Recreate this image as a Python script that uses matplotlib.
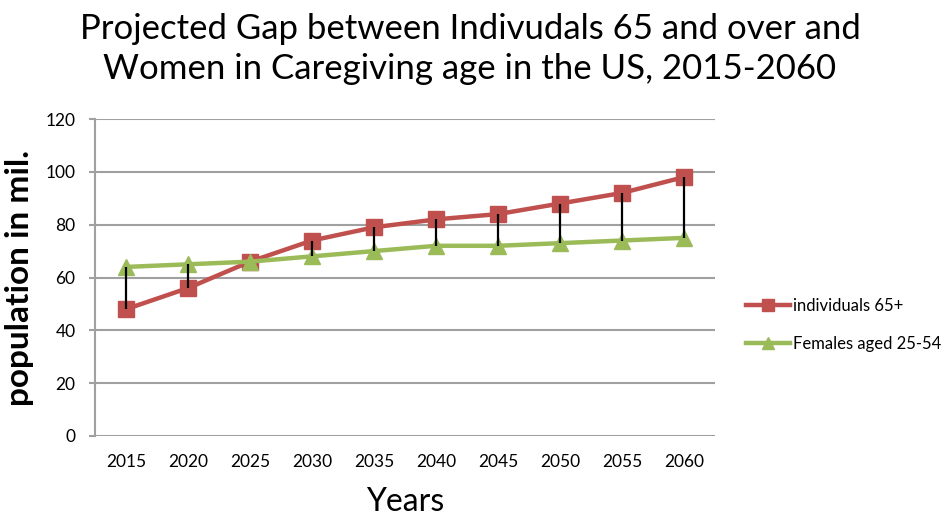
import numpy as np
import matplotlib.pyplot as plt

plt.rcParams['font.family'] = ['Lato', 'DejaVu Sans']

years = ['2015', '2020', '2025', '2030', '2035', '2040', '2045', '2050', '2055', '2060']
individuals_65 = [48, 56, 66, 74, 79, 82, 84, 88, 92, 98]
females_25_54 = [64, 65, 66, 68, 70, 72, 72, 73, 74, 75]

red = '#c0504d'
green = '#9bbb59'

fig = plt.figure(figsize=(9.51, 5.2), dpi=100)
ax = fig.add_axes([95 / 951, 1 - 436 / 520, 620 / 951, 317 / 520])

x = np.arange(len(years))

# lineas verticales entre las dos series (high-low lines)
ax.vlines(x, np.minimum(individuals_65, females_25_54),
          np.maximum(individuals_65, females_25_54),
          colors='black', linewidth=1.6, zorder=4)

ax.plot(x, individuals_65, color=red, linewidth=3.2, marker='s', markersize=11,
        label='individuals 65+', zorder=3)
ax.plot(x, females_25_54, color=green, linewidth=3.2, marker='^', markersize=12,
        label='Females aged 25-54', zorder=3)

ax.set_xlim(-0.5, len(years) - 0.5)
ax.set_ylim(0, 120)
ax.set_yticks(range(0, 121, 20))
ax.set_xticks(x)
ax.set_xticklabels(years)
ax.grid(axis='y', color='#a0a0a0', linewidth=1.5)
ax.set_axisbelow(True)
for s in ['top', 'right', 'bottom']:
    ax.spines[s].set_visible(False)
ax.spines['left'].set_color('#a0a0a0')
ax.spines['left'].set_linewidth(1.5)
ax.tick_params(axis='y', length=4, color='#a0a0a0', width=1.5, labelsize=12.5, pad=10)
ax.tick_params(axis='x', length=0, labelsize=12.5, pad=13)

ax.set_xlabel('Years', fontsize=23, labelpad=12)
ax.set_ylabel('population in mil.', fontsize=24, fontweight='bold', labelpad=8)

fig.text(470 / 951, 1 - 49 / 520,
         'Projected Gap between Indivudals 65 and over and\nWomen in Caregiving age in the US, 2015-2060',
         ha='center', va='center', fontsize=25, linespacing=1.3)

ax.legend(loc='center left', bbox_to_anchor=(1.04, 0.35), frameon=False,
          fontsize=12, handlelength=2.6, handletextpad=0.2, labelspacing=1.3,
          borderaxespad=0, markerscale=0.75)

fig.savefig('out.png', dpi=100)
